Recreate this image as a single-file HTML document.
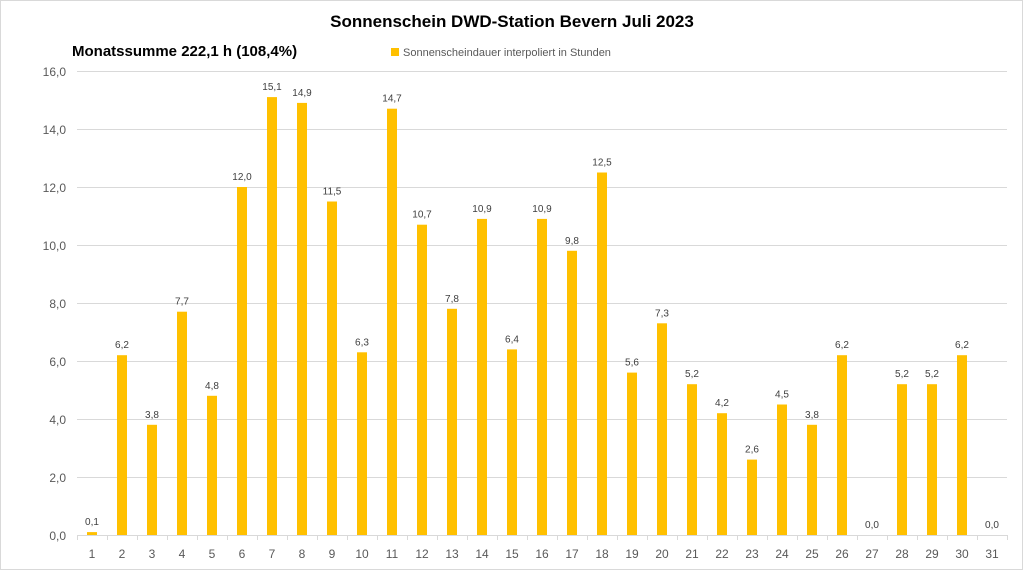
<!DOCTYPE html>
<html><head><meta charset="utf-8"><style>
body{margin:0;background:#fff}
svg{display:block;font-family:"Liberation Sans",sans-serif}
</style></head><body>
<svg width="1024" height="571" viewBox="0 0 1024 571">
<rect x="0.5" y="0.5" width="1022" height="569" fill="#fff" stroke="#d9d9d9"/>
<text x="512" y="27" text-anchor="middle" font-size="17" font-weight="bold" fill="#000">Sonnenschein  DWD-Station  Bevern Juli 2023</text>
<text x="72" y="56" font-size="15" font-weight="bold" fill="#000">Monatssumme 222,1  h (108,4%)</text>
<rect x="391" y="48" width="8" height="8" fill="#ffc000"/>
<text x="403" y="56" font-size="11" fill="#595959">Sonnenscheindauer interpoliert in Stunden</text>
<g stroke="#d9d9d9" stroke-width="1">
<line x1="77" x2="1007" y1="71.5" y2="71.5"/>
<line x1="77" x2="1007" y1="129.5" y2="129.5"/>
<line x1="77" x2="1007" y1="187.5" y2="187.5"/>
<line x1="77" x2="1007" y1="245.5" y2="245.5"/>
<line x1="77" x2="1007" y1="303.5" y2="303.5"/>
<line x1="77" x2="1007" y1="361.5" y2="361.5"/>
<line x1="77" x2="1007" y1="419.5" y2="419.5"/>
<line x1="77" x2="1007" y1="477.5" y2="477.5"/>
<line x1="77" x2="1007" y1="535.5" y2="535.5"/>
</g>
<g font-size="12" fill="#595959" text-anchor="end">
<text x="66" y="76">16,0</text><text x="66" y="134">14,0</text><text x="66" y="192">12,0</text><text x="66" y="250">10,0</text><text x="66" y="308">8,0</text><text x="66" y="366">6,0</text><text x="66" y="424">4,0</text><text x="66" y="482">2,0</text><text x="66" y="540">0,0</text>
</g>
<g id="bars"></g>
<g id="ticks" stroke="#d9d9d9"></g>
</svg>
<script>
var v=[0.1,6.2,3.8,7.7,4.8,12.0,15.1,14.9,11.5,6.3,14.7,10.7,7.8,10.9,6.4,10.9,9.8,12.5,5.6,7.3,5.2,4.2,2.6,4.5,3.8,6.2,0.0,5.2,5.2,6.2,0.0];
var ns="http://www.w3.org/2000/svg",b=document.getElementById("bars"),t=document.getElementById("ticks");
function el(p,n,a,txt){var e=document.createElementNS(ns,n);for(var k in a)e.setAttribute(k,a[k]);if(txt!=null)e.textContent=txt;p.appendChild(e);}
for(var i=0;i<31;i++){var cx=92+30*i,h=v[i]*29,y=535-h;
if(h>0)el(b,"rect",{x:cx-5,y:y,width:10,height:h,fill:"#ffc000"});
el(b,"text",{x:cx,y:y-7,"font-size":"10","text-anchor":"middle",fill:"#404040"},v[i].toFixed(1).replace(".",","));
el(b,"text",{x:cx,y:558,"font-size":"12","text-anchor":"middle",fill:"#595959"},String(i+1));}
for(var j=0;j<=31;j++){var x=77.5+30*j;el(t,"line",{x1:x,x2:x,y1:535,y2:540});}
</script>
</body></html>
